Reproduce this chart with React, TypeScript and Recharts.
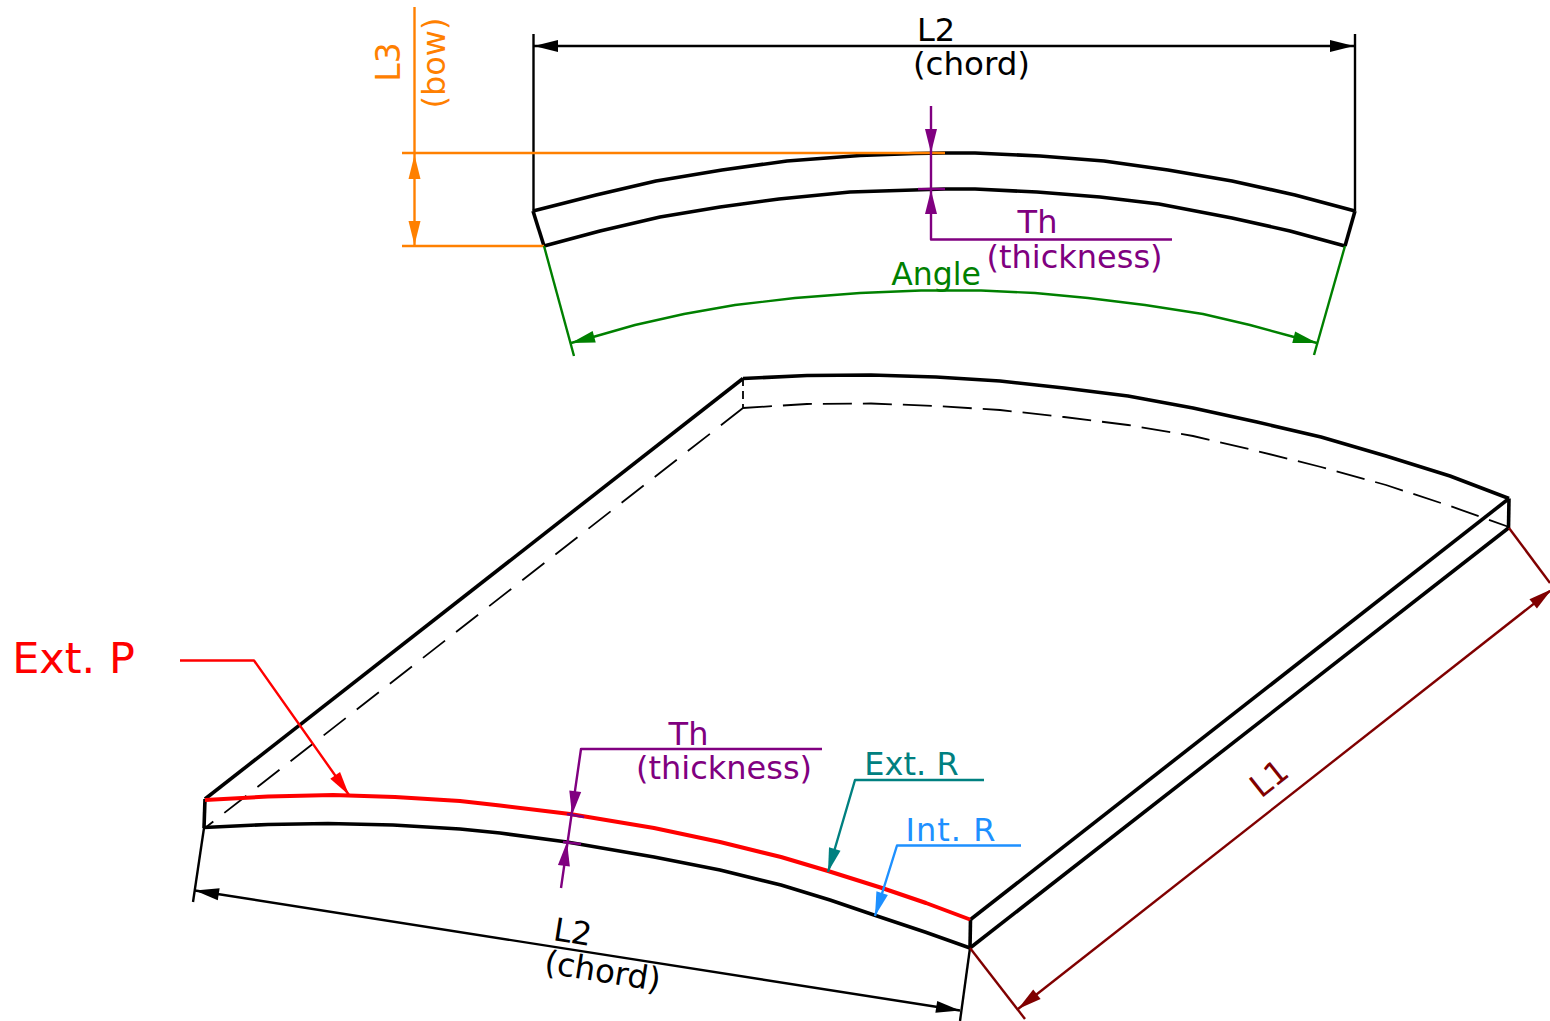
import React from "react";
import { ComposedChart, Line, Scatter, XAxis, YAxis } from "recharts";

type Pt = { x: number; y: number };
const pts = (list: number[][]): Pt[] => list.map(([x, y]) => ({ x, y }));

// top view in px
const topOuter = pts([[533, 211], [596, 195], [656, 181], [722, 170], [787, 161], [860, 155.5], [915, 153.5], [945, 153], [975, 153], [1040, 156], [1104, 161], [1168, 170], [1232, 181], [1295, 195], [1355, 211]]);
const topInner = pts([[544, 246], [600, 231], [660, 217], [720, 207], [779, 199], [850, 192], [945, 189], [975, 189], [1037, 192], [1100, 197], [1159, 204], [1232, 218], [1290, 231], [1345, 246]]);
const topEndLeft = pts([[533, 211], [544, 246]]);
const topEndRight = pts([[1355, 211], [1345, 246]]);
const chordExtLeft = pts([[533.5, 34], [533.5, 211]]);
const chordExtRight = pts([[1355, 34], [1355, 211]]);
const chordDim = pts([[534, 46], [1354, 46]]);
const bowVertical = pts([[414.5, 7], [414.5, 246]]);
const bowTopLine = pts([[402, 153], [945, 153]]);
const bowBottomLine = pts([[402, 246], [544, 246]]);
const thLeader = pts([[931, 106], [931, 239.5], [1172, 239.5]]);
const thTick = pts([[918, 189], [945, 189]]);
const angleExtLeft = pts([[544, 246], [574, 356]]);
const angleExtRight = pts([[1345, 246], [1314, 355]]);
const angleArc = pts([[571, 343], [593, 337], [635, 325], [684, 314], [735, 305], [795, 298], [860, 293], [921, 290.5], [981, 290.5], [1035, 293], [1088, 298], [1145, 305], [1203, 314], [1250, 325], [1294, 337], [1317, 343]]);

// perspective view
const backTop = pts([[743, 378.5], [807, 375.5], [871, 375], [936, 377], [1000, 381], [1064, 388], [1128, 396], [1193, 408], [1257, 422], [1321, 437], [1386, 456], [1450, 476], [1509, 498.5]]);
const backHidden = pts([[743, 408], [807, 404], [871, 403.5], [936, 406], [1000, 410], [1064, 417], [1128, 425], [1193, 436], [1257, 451], [1321, 467], [1386, 485], [1450, 506], [1509, 527]]);
const backCornerHidden = pts([[743, 378], [743, 408]]);
const leftHidden = pts([[743, 408], [205, 828]]);
const leftEdge = pts([[743, 378.5], [205, 799]]);
const rightTopEdge = pts([[1509, 498.5], [970.5, 919.5]]);
const rightBottomEdge = pts([[1508.5, 528], [970, 948]]);
const backEnd = pts([[1509, 498.5], [1508.5, 528]]);
const frontEndLeft = pts([[205, 799], [204, 828]]);
const frontEndRight = pts([[970.5, 919.5], [970, 948]]);
const frontOuter = pts([[205, 800], [268, 796.5], [333, 795], [395, 797], [460, 801], [500, 805.5], [570, 814], [654, 828], [720, 842], [781, 857], [828, 871], [882, 888], [926, 903], [970, 919.5]]);
const frontInner = pts([[204, 827.5], [268, 824.5], [328, 823.5], [393, 825], [460, 829], [500, 833], [567, 842], [654, 857], [720, 870], [781, 885], [830, 900], [874, 915], [925, 932], [970, 948]]);
const extPLeader = pts([[180, 660.5], [254, 660.5], [349, 795]]);
const thLowLeader = pts([[822, 749], [581, 749], [561, 888]]);
const thLowTickA = pts([[567, 814], [584, 817]]);
const thLowTickB = pts([[563, 842], [581, 844]]);
const extRLeader = pts([[984, 780], [855, 780], [828, 872]]);
const intRLeader = pts([[1021, 845.5], [897, 845.5], [875, 916]]);
const lowChordExtLeft = pts([[204, 828], [193, 902]]);
const lowChordExtRight = pts([[970, 948], [960, 1021]]);
const lowChordDim = pts([[195, 890.5], [960, 1010.5]]);
const l1ExtLeft = pts([[970, 948], [1025, 1019]]);
const l1ExtRight = pts([[1509, 528], [1550, 583]]);
const l1Dim = pts([[1018, 1009], [1550, 591]]);

// arrow heads: tip, then a point back along the shaft
const blackArrows = [
  { x: 534, y: 46, bx: 600, by: 46 },
  { x: 1354, y: 46, bx: 1300, by: 46 },
  { x: 195, y: 890.5, bx: 300, by: 907 },
  { x: 960, y: 1010.5, bx: 860, by: 995 },
];
const orangeArrows = [
  { x: 414.5, y: 155, bx: 414.5, by: 200 },
  { x: 414.5, y: 245, bx: 414.5, by: 200 },
];
const purpleArrows = [
  { x: 931, y: 153, bx: 931, by: 106 },
  { x: 931, y: 190, bx: 931, by: 239 },
  { x: 572, y: 815, bx: 581, by: 749 },
  { x: 567, y: 842, bx: 561, by: 888 },
];
const greenArrows = [
  { x: 571, y: 343, bx: 676, by: 315 },
  { x: 1317, y: 343, bx: 1203, by: 315 },
];
const redArrows = [{ x: 349, y: 795, bx: 254, by: 660.5 }];
const tealArrows = [{ x: 828, y: 872, bx: 855, by: 780 }];
const blueArrows = [{ x: 875, y: 916, bx: 897, by: 845.5 }];
const maroonArrows = [
  { x: 1018, y: 1009, bx: 1100, by: 945 },
  { x: 1552, y: 589, bx: 1470, by: 654 },
];

const FONT = "'DejaVu Sans', sans-serif";
const THICK = 3.6;
const THIN = 2.4;

function Arrow(props: any) {
  const { cx, cy, payload, fill } = props;
  const dx = payload.bx - payload.x;
  const dy = payload.by - payload.y;
  const d = Math.hypot(dx, dy);
  const ux = dx / d;
  const uy = dy / d;
  const len = 24;
  const w = 6;
  const bx = cx + ux * len;
  const by = cy + uy * len;
  return <polygon points={`${cx},${cy} ${bx - uy * w},${by + ux * w} ${bx + uy * w},${by - ux * w}`} fill={fill} />;
}

const stroke = (data: Pt[], color: string, width: number, dash?: string) => (
  <Line
    data={data}
    dataKey="y"
    type="linear"
    stroke={color}
    strokeWidth={width}
    strokeDasharray={dash}
    strokeLinejoin="round"
    dot={false}
    activeDot={false}
    legendType="none"
    isAnimationActive={false}
  />
);

const heads = (data: any[], color: string) => (
  <Scatter data={data} fill={color} shape={<Arrow fill={color} />} isAnimationActive={false} />
);

const label = (text: string, x: number, y: number, color: string, size = 32, rotate = 0, spacing = 0) => (
  <Scatter
    data={[{ x, y }]}
    isAnimationActive={false}
    shape={(p: any) => (
      <text
        x={p.cx}
        y={p.cy}
        fill={color}
        fontSize={size}
        fontFamily={FONT}
        letterSpacing={spacing}
        textAnchor="middle"
        transform={rotate ? `rotate(${rotate} ${p.cx} ${p.cy})` : undefined}
      >
        {text}
      </text>
    )}
  />
);

export default function App() {
  return (
    <div style={{ position: "absolute", left: 0, top: 0, width: 1550, height: 1021, background: "#fff" }}>
      <ComposedChart width={1550} height={1021} margin={{ top: 0, right: 0, bottom: 0, left: 0 }}>
        <XAxis type="number" dataKey="x" domain={[0, 1550]} hide allowDataOverflow />
        <YAxis type="number" dataKey="y" domain={[0, 1021]} reversed hide allowDataOverflow />

        {stroke(chordExtLeft, "#000", THIN)}
        {stroke(chordExtRight, "#000", THIN)}
        {stroke(chordDim, "#000", THIN)}
        {stroke(topOuter, "#000", THICK)}
        {stroke(topInner, "#000", THICK)}
        {stroke(topEndLeft, "#000", THICK)}
        {stroke(topEndRight, "#000", THICK)}
        {stroke(bowVertical, "#ff8000", THIN)}
        {stroke(bowTopLine, "#ff8000", THIN)}
        {stroke(bowBottomLine, "#ff8000", THIN)}
        {stroke(thLeader, "#800080", THIN)}
        {stroke(thTick, "#800080", THIN)}
        {stroke(angleExtLeft, "#008000", THIN)}
        {stroke(angleExtRight, "#008000", THIN)}
        {stroke(angleArc, "#008000", THIN)}

        {stroke(backHidden, "#000", 1.8, "29 11")}
        {stroke(backCornerHidden, "#000", 1.8, "8 5")}
        {stroke(leftHidden, "#000", 1.8, "28 14")}
        {stroke(backTop, "#000", THICK)}
        {stroke(leftEdge, "#000", THICK)}
        {stroke(rightTopEdge, "#000", THICK)}
        {stroke(rightBottomEdge, "#000", THICK)}
        {stroke(backEnd, "#000", THICK)}
        {stroke(frontEndLeft, "#000", THICK)}
        {stroke(frontEndRight, "#000", THICK)}
        {stroke(frontInner, "#000", THICK)}
        {stroke(lowChordExtLeft, "#000", THIN)}
        {stroke(lowChordExtRight, "#000", THIN)}
        {stroke(lowChordDim, "#000", THIN)}
        {stroke(l1ExtLeft, "#800000", THIN)}
        {stroke(l1ExtRight, "#800000", THIN)}
        {stroke(l1Dim, "#800000", THIN)}
        {stroke(frontOuter, "#ff0000", 4)}
        {stroke(extPLeader, "#ff0000", THIN)}
        {stroke(thLowLeader, "#800080", THIN)}
        {stroke(thLowTickA, "#800080", THIN)}
        {stroke(thLowTickB, "#800080", THIN)}
        {stroke(extRLeader, "#008080", THIN)}
        {stroke(intRLeader, "#1e90ff", THIN)}

        {heads(blackArrows, "#000")}
        {heads(orangeArrows, "#ff8000")}
        {heads(purpleArrows, "#800080")}
        {heads(greenArrows, "#008000")}
        {heads(redArrows, "#ff0000")}
        {heads(tealArrows, "#008080")}
        {heads(blueArrows, "#1e90ff")}
        {heads(maroonArrows, "#800000")}

        {label("L2", 936, 41, "#000")}
        {label("(chord)", 971.5, 75, "#000", 32.5)}
        {label("L3", 399.5, 62, "#ff8000", 33, -90)}
        {label("(bow)", 445, 63, "#ff8000", 32, -90)}
        {label("Th", 1037.5, 233, "#800080")}
        {label("(thickness)", 1074.5, 268, "#800080")}
        {label("Angle", 936, 285, "#008000", 31.5)}
        {label("Th", 688.5, 745, "#800080")}
        {label("(thickness)", 724, 779, "#800080")}
        {label("Ext. R", 911.5, 775, "#008080")}
        {label("Int. R", 951, 841, "#1e90ff", 32, 0, 1)}
        {label("Ext. P", 73.5, 673, "#ff0000", 43)}
        {label("L2", 571, 943, "#000", 32, 9)}
        {label("(chord)", 601, 982, "#000", 32.5, 9)}
        {label("L1", 1276, 787, "#800000", 32, -38.5)}
      </ComposedChart>
    </div>
  );
}
